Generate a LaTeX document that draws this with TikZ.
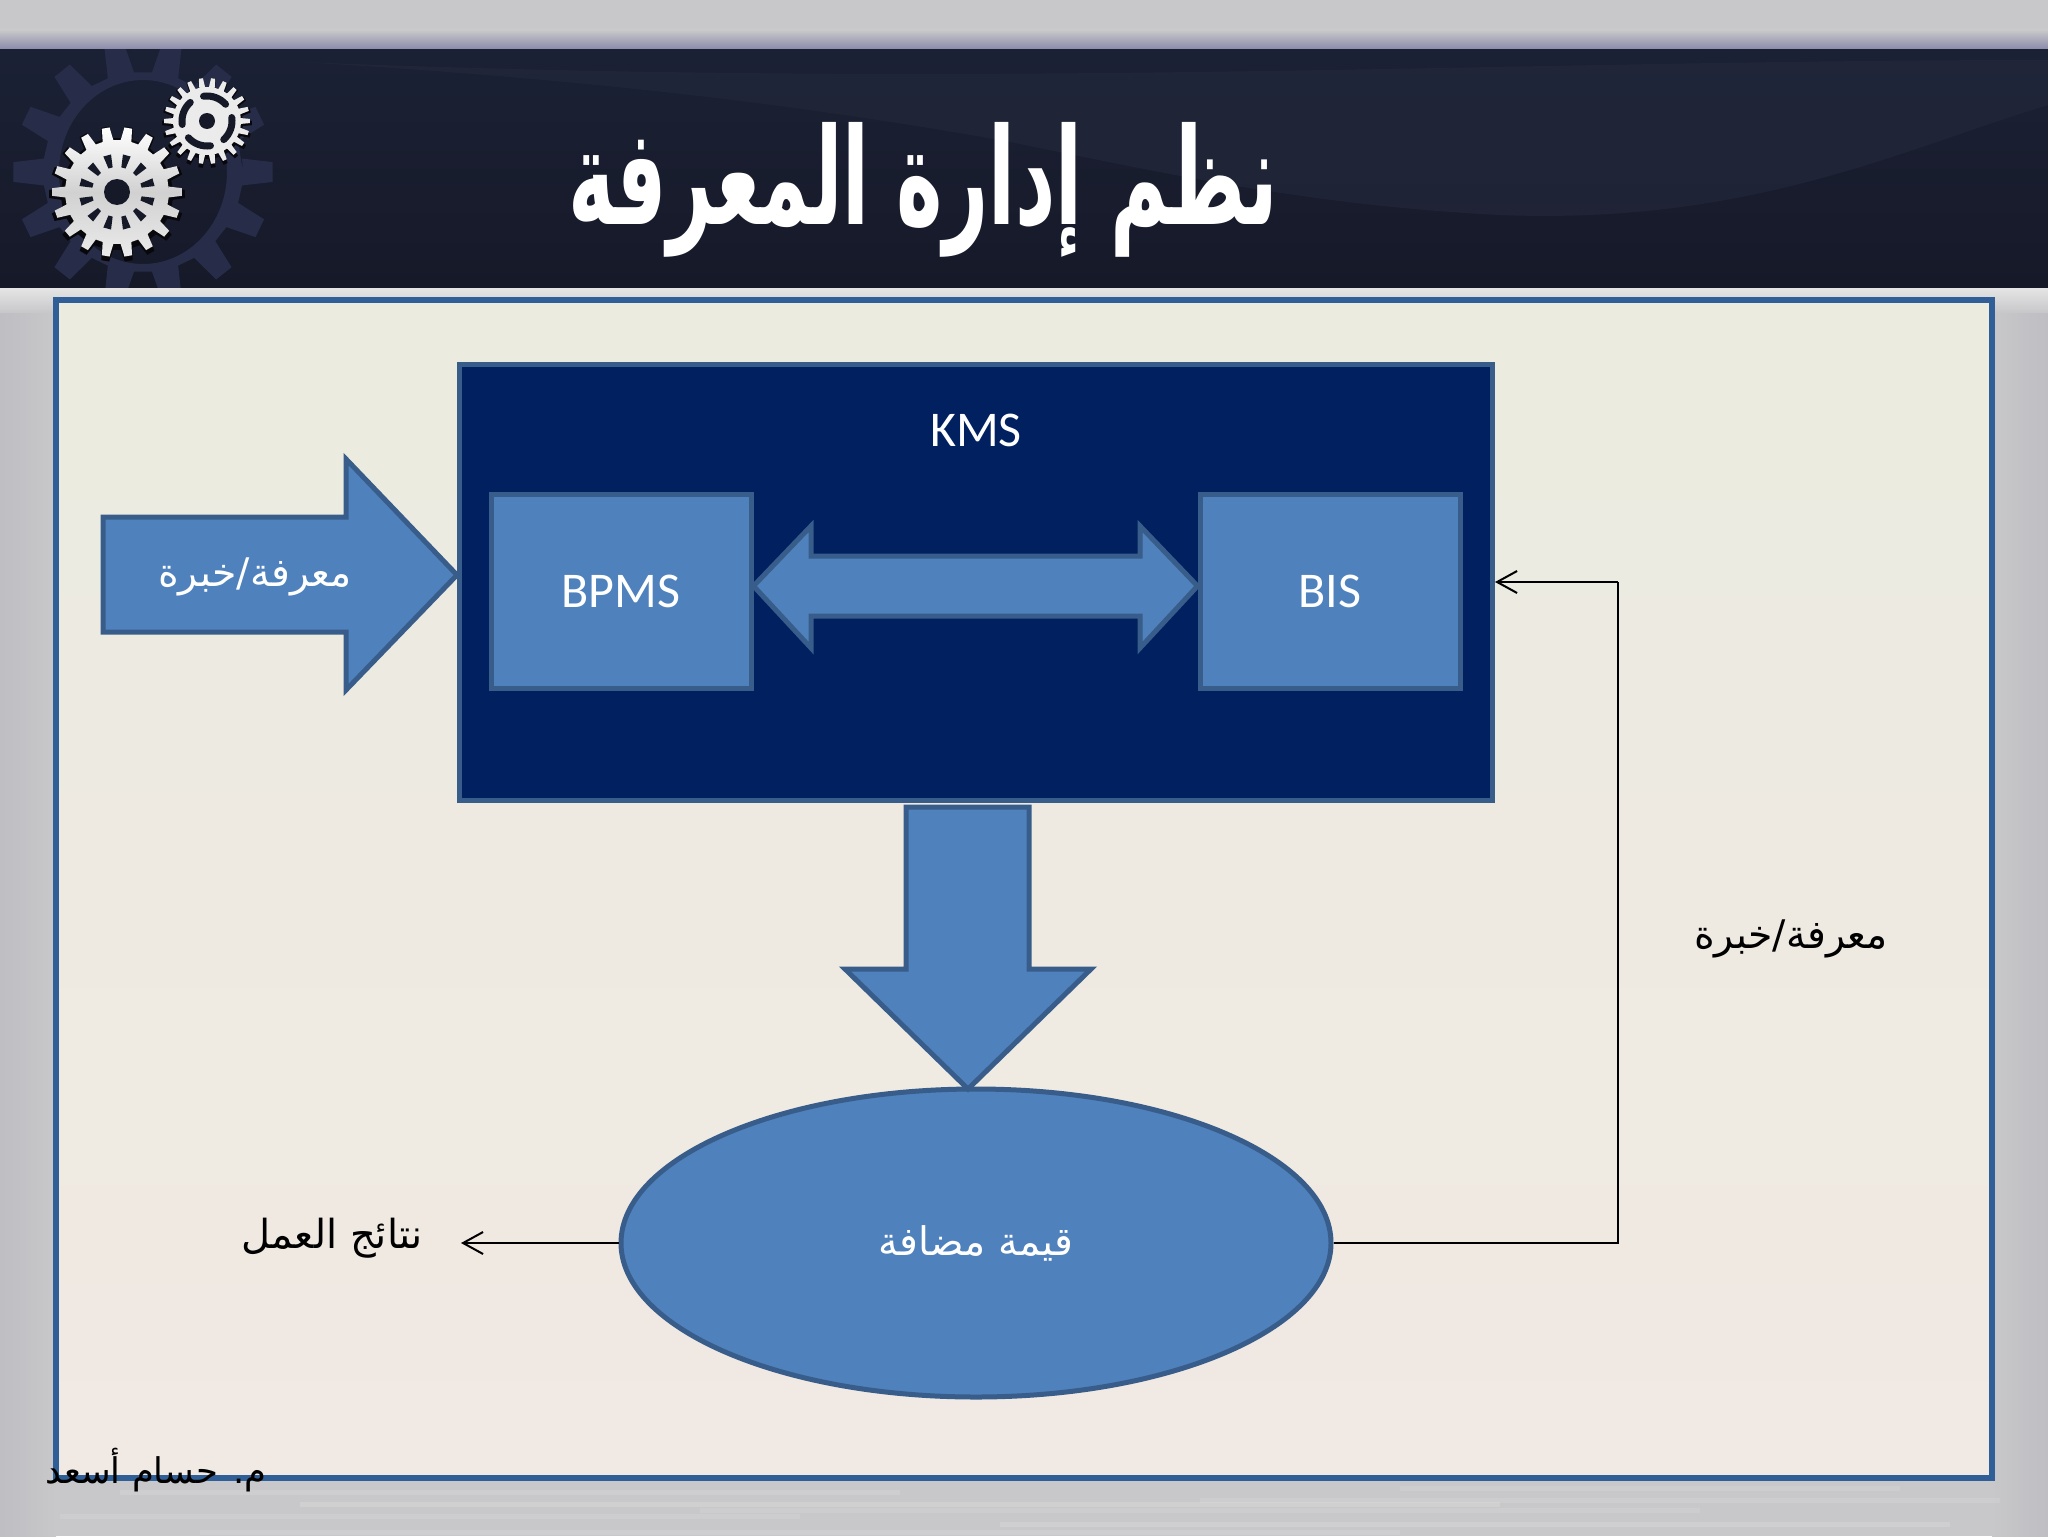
\documentclass[tikz,border=0pt]{standalone}
\usepackage{fontspec}
\usepackage{graphicx}
\usetikzlibrary{arrows.meta,calc,shapes.geometric}
\TeXXeTstate=1
\setmainfont{Carlito}
\newfontfamily\arabicfont[Script=Arabic]{DejaVu Sans}
\definecolor{officeblue}{HTML}{4F81BD}
\definecolor{officeline}{HTML}{385D8A}
\definecolor{navyfill}{HTML}{002060}
\definecolor{panelfill}{HTML}{EBEBE0}
\definecolor{panelfillb}{HTML}{F1E9E3}
\definecolor{panelline}{HTML}{2F5F96}
\definecolor{bannertop}{HTML}{1B2135}
\definecolor{bannerdark}{HTML}{161928}
\definecolor{bannerlight}{HTML}{23283B}
\definecolor{gearback}{HTML}{272D49}
\definecolor{metal}{HTML}{C8C8CA}
\definecolor{metaldark}{HTML}{BEBEC3}
\newcommand{\arsize}[1]{\arabicfont\fontsize{#1}{#1}\selectfont}
\newcommand{\geartrace}[5]{% cx cy router rinner teeth
  (#1,#2) ++(0:#4) \foreach \k [evaluate=\k as \a using {(\k-1)*360/#5}] in {1,...,#5} {
    -- ($(#1,#2)+(\a-0.30*360/#5:#4)$)
    -- ($(#1,#2)+(\a-0.17*360/#5:#3)$)
    -- ($(#1,#2)+(\a+0.17*360/#5:#3)$)
    -- ($(#1,#2)+(\a+0.30*360/#5:#4)$)
  } -- cycle}
\tikzset{
  blockshape/.style={draw=officeline,line width=2.5pt,fill=officeblue,line join=miter},
  boxlabel/.style={text=white,font=\fontsize{25}{25}\selectfont,inner sep=0pt},
  flowline/.style={draw=black,line width=1pt,-{Straight Barb[length=10pt,width=11pt,line width=1pt]}},
  plainline/.style={draw=black,line width=1pt},
}
\begin{document}
\begin{tikzpicture}[x=0.5pt,y=-0.5pt]
\useasboundingbox (0,0) rectangle (2048,1536);
% metal background
\fill[metal] (0,0) rectangle (2048,1536);
\shade[left color=metaldark,right color=metal] (0,287) rectangle (56,1536);
\shade[left color=metal,right color=metaldark] (1992,287) rectangle (2048,1536);
\shade[top color=metal,bottom color=metal!85!blue!80!black] (0,30) rectangle (2048,50);
\shade[top color=white!55!metal,bottom color=metal] (0,287) rectangle (2048,312);
\foreach \yy/\xa/\xb/\op in {1490/120/900/.12,1502/300/1500/.15,1514/60/800/.1,1522/1000/1950/.14,1498/1200/2000/.1,1530/200/1400/.12,
  1508/700/1700/.1,1486/1400/1900/.1}
  \fill[white,opacity=\op] (\xa,\yy) rectangle (\xb,\yy+5);
% banner
\shade[top color=bannertop,bottom color=bannerdark] (0,50) rectangle (2048,287);
\fill[bannerlight,opacity=.65] (300,62) 
  .. controls (1000,90) and (1500,60) .. (2048,60) -- (2048,105)
  .. controls (1900,150) and (1750,225) .. (1500,215)
  .. controls (1300,205) and (1150,170) .. (1000,140)
  .. controls (800,105) and (600,80) .. (300,62) -- cycle;
% gears
\begin{scope}
\clip (0,50) rectangle (2048,287);
\fill[gearback,even odd rule] \geartrace{143}{172}{130}{100}{14} (143,172) ellipse [x radius=84,y radius=92];
\end{scope}
\fill[black!70!bannerdark] \geartrace{117}{194}{68}{56}{18};
\shade[top color=white,bottom color=white!92!black,middle color=white!82!black] \geartrace{117}{192}{65}{52}{18};
\foreach \k in {0,30,...,330}
  \fill[bannerdark] ($(117,192)+(\k+15-5:25)$) -- ($(117,192)+(\k+15-6:38)$) -- ($(117,192)+(\k+15+6:38)$) -- ($(117,192)+(\k+15+5:25)$) -- cycle;
\fill[bannerdark] (117,192) circle (13);
\fill[black!70!bannerdark] \geartrace{207}{123}{45}{36}{22};
\fill[white!92!black] \geartrace{207}{121}{43}{34}{22};
\foreach \k in {20,110,200,290}
  \draw[bannerdark,line width=3.5pt,line cap=round] ($(207,121)+(\k-28:25)$) arc[start angle=\k-28,end angle=\k+28,radius=25];
\fill[bannerdark] (207,121) circle (8);
% title
\node[inner sep=0pt,text=white] (title) at (923,190) {\scalebox{0.655}[1.12]{\arsize{60}\bfseries\beginR نظم إدارة المعرفة\endR}};
% panel
\shade[top color=panelfill,middle color=panelfill!60!panelfillb,bottom color=panelfillb] (56,300) rectangle (1992,1478);
\draw[panelline,line width=3pt,line join=miter] (56,300) rectangle (1992,1478);
% KMS
\node[draw=officeline,line width=2.5pt,fill=navyfill,minimum width=516.5pt,minimum height=218pt,inner sep=0pt,anchor=north west] (kms) at (457,362) {};
\node[boxlabel] (kmslabel) at (976,430) {KMS};
\node[draw=officeline,line width=2.5pt,fill=officeblue,minimum width=130pt,minimum height=97pt,inner sep=0pt,text=white,font=\fontsize{25}{25}\selectfont] (bpms) at (621,591) {BPMS};
\node[draw=officeline,line width=2.5pt,fill=officeblue,minimum width=130pt,minimum height=97pt,inner sep=0pt,text=white,font=\fontsize{25}{25}\selectfont] (bis) at (1330,591) {BIS};
% double arrow between the boxes
\draw[blockshape] (bpms.east |- 0,586) -- (811,526) -- (811,556) -- (1140,556) -- (1140,526) -- (bis.west |- 0,586) -- (1140,648) -- (1140,616) -- (811,616) -- (811,648) -- cycle;
% input arrow
\draw[blockshape] (103,517) -- (346,517) -- (346,459) -- (kms.west |- 0,575) -- (346,690) -- (346,632) -- (103,632) -- cycle;
\node[inner sep=0pt,text=white] (inlabel) at (255,577) {\arsize{19.7}\beginR معرفة/خبرة\endR};
% value ellipse
\node[draw=officeline,line width=2.5pt,fill=officeblue,ellipse,minimum width=355pt,minimum height=154pt,inner sep=0pt] (value) at (976,1243) {};
\node[inner sep=0pt,text=white] (valuelabel) at (976,1243) {\arsize{19.7}\beginR قيمة مضافة\endR};
% down arrow
\draw[blockshape] (906,807) -- (1029,807) -- (1029,969) -- (1091,969) -- (968,1089) -- (845,969) -- (906,969) -- cycle;
% connectors
\coordinate (fbcorner) at (1618,582);
\coordinate (fbin) at (kms.east |- 0,582);
\draw[plainline] (value.east) -- (fbcorner |- value.east) -- (fbcorner);
\draw[flowline] (fbcorner) -- (fbin);
\node[inner sep=0pt,text=black] (fblabel) at (1791,939) {\arsize{19.7}\beginR معرفة/خبرة\endR};
\node[inner sep=0pt,text=black] (result) at (332,1238) {\arsize{20}\beginR نتائج العمل\endR};
\coordinate (resin) at (461,1243);
\draw[flowline] (value.west) -- (resin);
\node[inner sep=0pt,text=black] (author) at (156,1470) {\arsize{17.7}\beginR م. حسام أسعد\endR};
\end{tikzpicture}
\end{document}
